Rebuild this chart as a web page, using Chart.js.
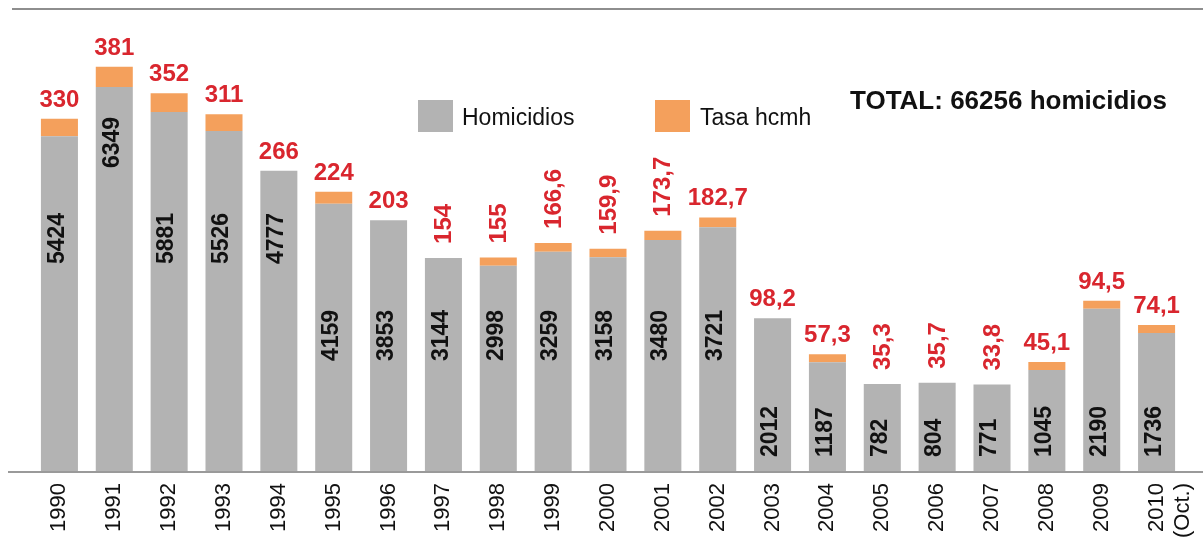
<!DOCTYPE html>
<html>
<head>
<meta charset="utf-8">
<script src="https://cdn.jsdelivr.net/npm/chart.js@4.4.1/dist/chart.umd.min.js"></script>
<style>
  html, body { margin: 0; padding: 0; background: #ffffff; }
  #wrap { position: relative; width: 1203px; height: 551px; }
</style>
</head>
<body>
<div id="wrap"><canvas id="c" width="1203" height="551"></canvas></div>
<script>
// ---- data ----
const years = ['1990','1991','1992','1993','1994','1995','1996','1997','1998','1999','2000',
               '2001','2002','2003','2004','2005','2006','2007','2008','2009',['2010','(Oct.)']];
const homicidios = [5424,6349,5881,5526,4777,4159,3853,3144,2998,3259,3158,
                    3480,3721,2012,1187,782,804,771,1045,2190,1736];
const tasaHcmh = [330,381,352,311,266,224,203,154,155,166.6,159.9,
                  173.7,182.7,98.2,57.3,35.3,35.7,33.8,45.1,94.5,74.1];
// whether the orange cap is drawn for that year in the original graphic
const tasaCapShown = [1,1,1,1,0,1,0,0,1,1,1,1,1,0,1,0,0,0,1,1,1];
// whether the rate label is written vertically
const tasaVertical = [0,0,0,0,0,0,0,1,1,1,1,1,0,0,0,1,1,1,0,0,0];

const totalHomicidios = homicidios.reduce((a, b) => a + b, 0);
const fmt = v => String(v).replace('.', ',');

const GRAY = '#b3b3b3';
const ORANGE = '#f4a05c';
const RED = '#d9262e';
const FONT = '"Liberation Sans", Arial, sans-serif';
const AXIS_MIN = -868;

const overlay = {
  id: 'overlay',
  beforeDraw(chart) {
    const ctx = chart.ctx;
    ctx.save();
    ctx.fillStyle = '#ffffff';
    ctx.fillRect(0, 0, chart.width, chart.height);
    // top rule
    ctx.fillStyle = '#8e8e8e';
    ctx.fillRect(12, 8, chart.width - 12, 2);
    ctx.restore();
  },
  afterDatasetsDraw(chart) {
    const ctx = chart.ctx;
    const area = chart.chartArea;
    const gray = chart.getDatasetMeta(0).data;
    const orange = chart.getDatasetMeta(1).data;
    ctx.save();
    // baseline
    ctx.fillStyle = '#9a9a9a';
    ctx.fillRect(8, area.bottom - 1, chart.width - 8, 2);

    for (let i = 0; i < homicidios.length; i++) {
      const g = gray[i];
      const x = g.x;
      let top = g.y;
      const o = orange[i];
      if (o && tasaCapShown[i] && !o.skip && isFinite(o.y)) top = Math.min(top, o.y);

      // rate label
      ctx.fillStyle = RED;
      ctx.font = 'bold 24px ' + FONT;
      if (tasaVertical[i]) {
        ctx.save();
        ctx.translate(x + 1, top - 14);
        ctx.rotate(-Math.PI / 2);
        ctx.textAlign = 'left';
        ctx.textBaseline = 'middle';
        ctx.fillText(fmt(tasaHcmh[i]), 0, 0);
        ctx.restore();
      } else {
        ctx.textAlign = 'center';
        ctx.textBaseline = 'alphabetic';
        ctx.fillText(fmt(tasaHcmh[i]), x, top - 12);
      }

      // homicide count label inside bar
      const v = homicidios[i];
      const lift = v > 6000 ? 304 : v > 4500 ? 208 : v > 2500 ? 111 : 15;
      ctx.save();
      ctx.fillStyle = '#111111';
      ctx.font = 'bold 23px ' + FONT;
      ctx.translate(x - 2, area.bottom - lift);
      ctx.rotate(-Math.PI / 2);
      ctx.textAlign = 'left';
      ctx.textBaseline = 'middle';
      ctx.fillText(String(v), 0, 0);
      ctx.restore();
    }

    // legend
    ctx.fillStyle = GRAY;
    ctx.fillRect(418, 100, 35, 32);
    ctx.fillStyle = ORANGE;
    ctx.fillRect(655, 100, 35, 32);
    ctx.fillStyle = '#111111';
    ctx.font = '23px ' + FONT;
    ctx.textAlign = 'left';
    ctx.textBaseline = 'middle';
    ctx.fillText(chart.data.datasets[0].label, 462, 119);
    ctx.fillText(chart.data.datasets[1].label, 700, 119);

    // total
    ctx.font = 'bold 26px ' + FONT;
    ctx.fillText('TOTAL: ' + totalHomicidios + ' homicidios', 850, 102);
    ctx.restore();
  }
};

new Chart(document.getElementById('c'), {
  type: 'bar',
  data: {
    labels: years,
    datasets: [
      {
        label: 'Homicidios',
        data: homicidios,
        backgroundColor: GRAY,
        base: AXIS_MIN,
        categoryPercentage: 1,
        barPercentage: 0.675
      },
      {
        label: 'Tasa hcmh',
        data: tasaHcmh.map((v, i) => tasaCapShown[i] ? v : null),
        backgroundColor: ORANGE,
        minBarLength: 8,
        categoryPercentage: 1,
        barPercentage: 0.675
      }
    ]
  },
  options: {
    responsive: false,
    animation: false,
    devicePixelRatio: 1,
    layout: { padding: { left: 32, right: 19, top: 10, bottom: 0 } },
    plugins: { legend: { display: false }, tooltip: { enabled: false } },
    scales: {
      x: {
        stacked: true,
        grid: { display: false, drawTicks: false },
        border: { display: false },
        ticks: {
          minRotation: 90,
          maxRotation: 90,
          autoSkip: false,
          padding: 11,
          color: '#111111',
          font: { family: FONT, size: 22 }
        },
        afterFit(scale) {
          scale.height = 79;
          scale.paddingLeft = 0;
          scale.paddingRight = 0;
        }
      },
      y: {
        stacked: true,
        display: false,
        min: AXIS_MIN,
        max: 7792
      }
    }
  },
  plugins: [overlay]
});
</script>
</body>
</html>
